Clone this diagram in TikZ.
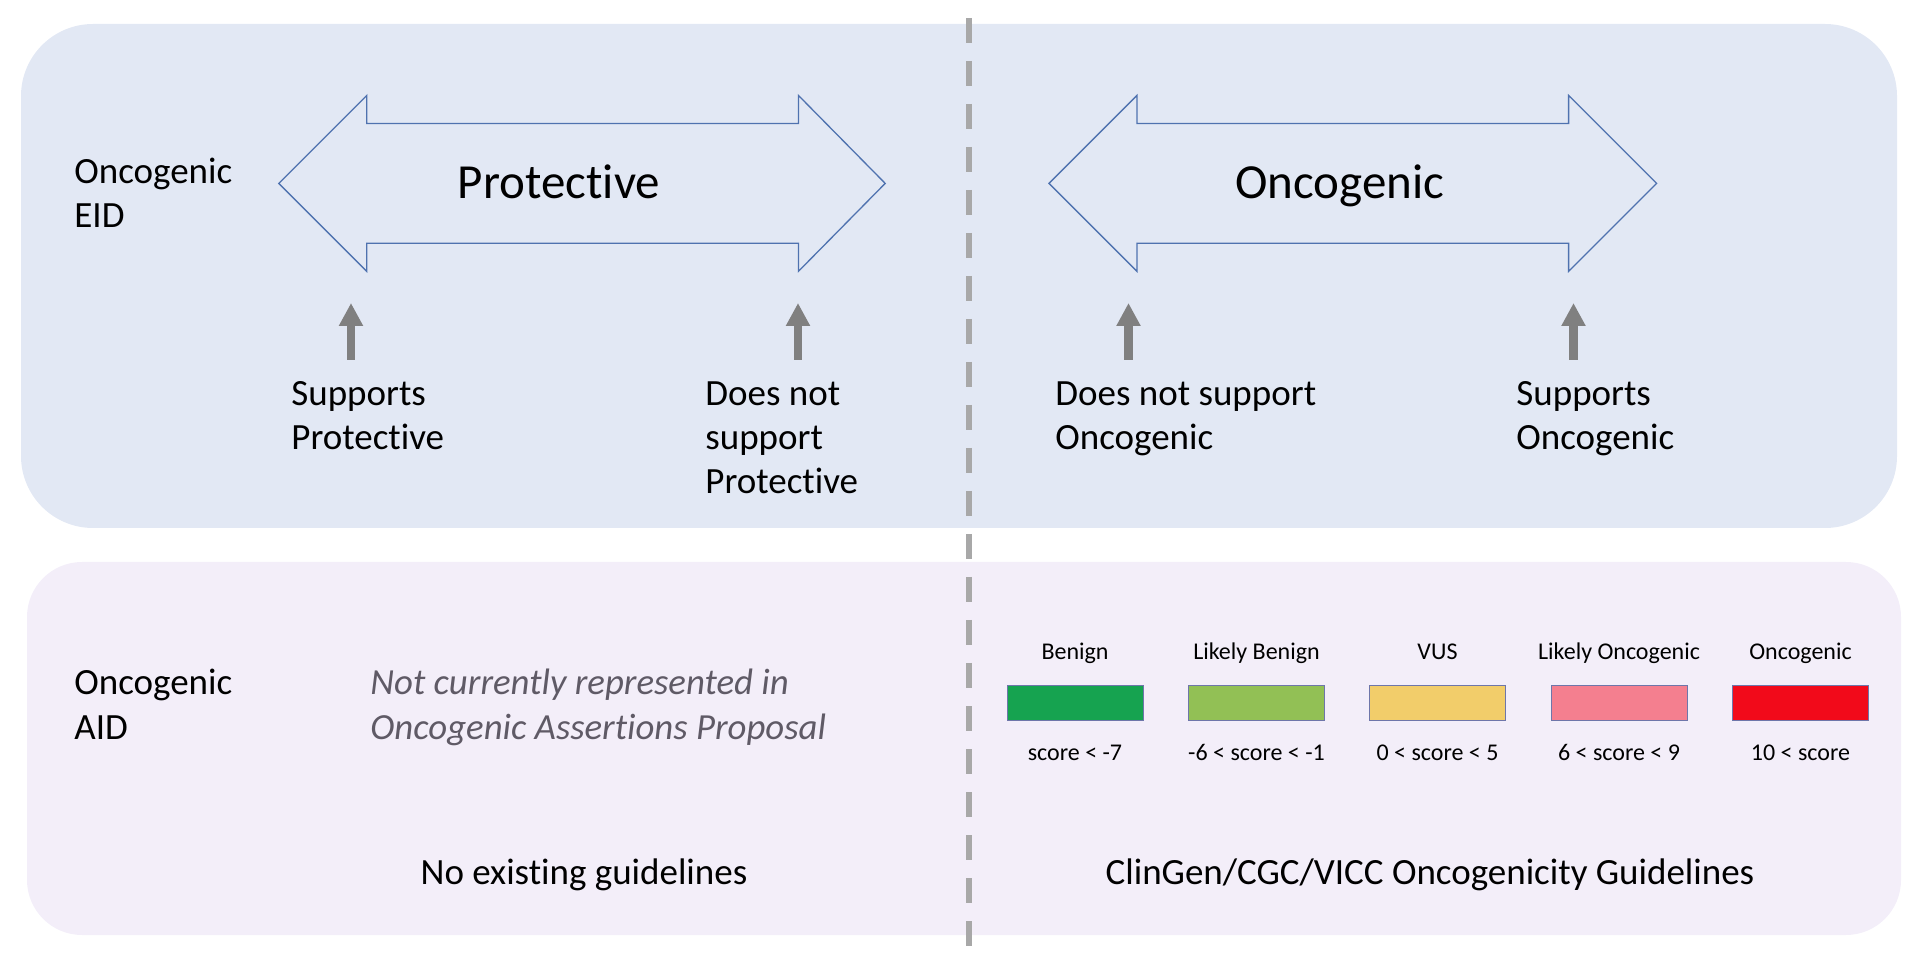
\documentclass[tikz,border=0pt]{standalone}
\usepackage{fontspec}
\setmainfont{Carlito}[Ligatures=NoCommon]
\usetikzlibrary{arrows.meta}
\definecolor{topfill}{RGB}{226,232,244}
\definecolor{botfill}{RGB}{243,238,249}
\definecolor{arrowblue}{RGB}{79,114,175}
\definecolor{greyarrow}{RGB}{128,128,128}
\definecolor{dashgrey}{RGB}{168,168,168}
\definecolor{itgrey}{RGB}{95,90,102}
\definecolor{cbenign}{RGB}{22,163,80}
\definecolor{clbenign}{RGB}{146,192,85}
\definecolor{cvus}{RGB}{242,205,106}
\definecolor{clonc}{RGB}{244,127,143}
\definecolor{conc}{RGB}{242,10,26}
\definecolor{boxborder}{RGB}{110,118,170}
\newcommand{\twolines}[2]{\vtop{\hbox{#1}\hbox{#2}}}
\newcommand{\threelines}[3]{\vtop{\hbox{#1}\hbox{#2}\hbox{#3}}}
\begin{document}
\begin{tikzpicture}[x=0.5pt,y=-0.5pt,
  dashline/.style={draw=dashgrey,line width=3pt,dash pattern=on 12.5pt off 9pt},
  dblarrow/.style={draw=arrowblue,line width=0.65pt,line join=miter},
  greyup/.style={draw=greyarrow,line width=4.15pt,-{Triangle[length=11.5pt,width=11.4pt]}},
  bodytxt/.style={inner sep=0pt,font=\fontsize{18.5}{22}\selectfont,text=black},
  ittxt/.style={inner sep=0pt,font=\fontsize{18.4}{22}\selectfont\itshape,text=itgrey},
  bigtxt/.style={inner sep=0pt,font=\fontsize{24.5}{29}\selectfont,text=black},
  smalltxt/.style={inner sep=0pt,font=\fontsize{12}{14}\selectfont,text=black,anchor=base},
  scorebox/.style={draw=boxborder,line width=0.5pt,minimum width=68pt,minimum height=17.5pt,inner sep=0pt}
]
\useasboundingbox (0,0) rectangle (1917,956);
% panels
\fill[topfill,rounded corners=36pt] (21,24) rectangle (1897,528);
\fill[botfill,rounded corners=27.5pt] (27,562) rectangle (1901,935);
% divider
\coordinate (dtop) at (969,18);
\coordinate (dbot) at (969,947);
\draw[dashline] (dtop) -- (dbot);

% left double arrow
\draw[dblarrow] (278.8,183.4) -- (366.8,95.4) -- (366.8,123.5) -- (798.4,123.5) -- (798.4,95.4)
  -- (885.2,183.4) -- (798.4,271.4) -- (798.4,243.3) -- (366.8,243.3) -- (366.8,271.4) -- cycle;
\node[bigtxt,anchor=base] (prot) at (559,199) {Protective};
% right double arrow
\draw[dblarrow] (1049,183.4) -- (1137,95.4) -- (1137,123.5) -- (1568.6,123.5) -- (1568.6,95.4)
  -- (1656.6,183.4) -- (1568.6,271.4) -- (1568.6,243.3) -- (1137,243.3) -- (1137,271.4) -- cycle;
\node[bigtxt,anchor=base] (onc) at (1340,199) {Oncogenic};

% side labels
\node[bodytxt,anchor=base west] (eid) at (74,183.3) {\twolines{Oncogenic}{EID}};
\node[bodytxt,anchor=base west] (aid) at (74,695) {\twolines{Oncogenic}{AID}};

% grey arrows and their labels
\node[bodytxt,anchor=base west] (sp) at (291,406) {\twolines{Supports}{Protective}};
\node[bodytxt,anchor=base west] (dnsp) at (705,406) {\threelines{Does not}{support}{Protective}};
\node[bodytxt,anchor=base west] (dnso) at (1055,406) {\twolines{Does not support}{Oncogenic}};
\node[bodytxt,anchor=base west] (so) at (1516,406) {\twolines{Supports}{Oncogenic}};
\coordinate (g1b) at (351,360);   \coordinate (g1t) at (351,303);
\coordinate (g2b) at (798,360);   \coordinate (g2t) at (798,303);
\coordinate (g3b) at (1128.5,360);\coordinate (g3t) at (1128.5,303);
\coordinate (g4b) at (1573.5,360);\coordinate (g4t) at (1573.5,303);
\draw[greyup] (g1b) -- (g1t);
\draw[greyup] (g2b) -- (g2t);
\draw[greyup] (g3b) -- (g3t);
\draw[greyup] (g4b) -- (g4t);

% bottom left
\node[ittxt,anchor=base west] (notrep) at (370,695) {\twolines{Not currently represented in}{Oncogenic Assertions Proposal}};
\node[bodytxt,anchor=base] (noguide) at (584,884) {No existing guidelines};

% bottom right scale
\node[scorebox,fill=cbenign]  (b1) at (1075,702.5) {};
\node[scorebox,fill=clbenign] (b2) at (1256.5,702.5) {};
\node[scorebox,fill=cvus]     (b3) at (1437.5,702.5) {};
\node[scorebox,fill=clonc]    (b4) at (1619,702.5) {};
\node[scorebox,fill=conc]     (b5) at (1800.5,702.5) {};
\node[smalltxt] (l1) at (1075,660) {Benign};
\node[smalltxt] (l2) at (1256.5,660) {Likely Benign};
\node[smalltxt] (l3) at (1437.5,660) {VUS};
\node[smalltxt] (l4) at (1619,660) {Likely Oncogenic};
\node[smalltxt] (l5) at (1800.5,660) {Oncogenic};
\node[smalltxt] (s1) at (1075,760) {score < -7};
\node[smalltxt] (s2) at (1256.5,760) {-6 < score < -1};
\node[smalltxt] (s3) at (1437.5,760) {0 < score < 5};
\node[smalltxt] (s4) at (1619,760) {6 < score < 9};
\node[smalltxt] (s5) at (1800.5,760) {10 < score};
\node[bodytxt,anchor=base] (clingen) at (1430,884) {ClinGen/CGC/VICC Oncogenicity Guidelines};
\end{tikzpicture}
\end{document}
